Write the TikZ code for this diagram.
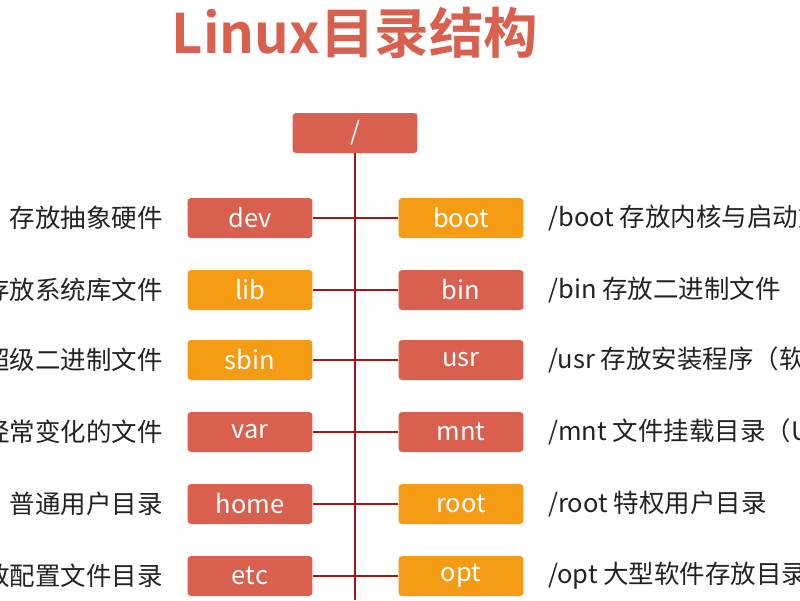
\documentclass[tikz,border=0pt]{standalone}
\usepackage{fontspec}
\setmainfont{Noto Sans CJK SC}
\newfontfamily\titlefont{Noto Sans CJK SC Bold}
\definecolor{boxred}{HTML}{D9604E}
\definecolor{boxorange}{HTML}{F59B14}
\definecolor{linered}{HTML}{A01818}
\definecolor{textgray}{HTML}{222222}

\begin{document}
\begin{tikzpicture}[x=0.02cm,y=-0.02cm]

\tikzset{dir/.style = {rounded corners=2pt, minimum width=2.5cm, minimum height=0.8cm, text=white, font=\fontsize{14.5}{16}\selectfont}}
\tikzset{red/.style = {dir, fill=boxred}}
\tikzset{orange/.style = {dir, fill=boxorange}}
\tikzset{note/.style = {text=textgray, font=\fontsize{14.5}{16}\selectfont, inner sep=0pt}}
\tikzset{link/.style = {draw=linered, line width=1.2pt}}

\useasboundingbox (0,0) rectangle (800,600);
\clip (0,0) rectangle (800,600);

%title
\node[text=boxred, font=\titlefont\fontsize{31}{36}\selectfont] (title) at (355,33) {Linux目录结构};

%root
\node[red, minimum width=2.5cm] (root) at (355,133) {/};
\coordinate (bottom) at (355,600);
\draw[link] (root) -- (bottom);

%directories
\node[red]    (dev)  at (250,218) {dev};
\node[orange] (lib)  at (250,290) {lib};
\node[orange] (sbin) at (250,360) {sbin};
\node[red]    (var)  at (250,432) {var};
\node[red]    (home) at (250,504) {home};
\node[red]    (etc)  at (250,576) {etc};
\node[orange] (boot) at (461,218) {boot};
\node[red]    (bin)  at (461,290) {bin};
\node[red]    (usr)  at (461,360) {usr};
\node[red]    (mnt)  at (461,432) {mnt};
\node[orange] (rootdir) at (461,504) {root};
\node[orange] (opt)  at (461,576) {opt};

%edges
\draw[link] (dev) -- (boot);
\draw[link] (lib) -- (bin);
\draw[link] (sbin) -- (usr);
\draw[link] (var) -- (mnt);
\draw[link] (home) -- (rootdir);
\draw[link] (etc) -- (opt);

%notes
\node[note, anchor=east] (ndev)  at (163,218) {存放抽象硬件};
\node[note, anchor=east] (nlib)  at (163,290) {存放系统库文件};
\node[note, anchor=east] (nsbin) at (163,360) {超级二进制文件};
\node[note, anchor=east] (nvar)  at (163,432) {经常变化的文件};
\node[note, anchor=east] (nhome) at (163,504) {普通用户目录};
\node[note, anchor=east] (netc)  at (163,576) {存放配置文件目录};
\node[note, anchor=west] (nboot) at (548,218) {/boot 存放内核与启动文件};
\node[note, anchor=west] (nbin)  at (548,290) {/bin 存放二进制文件};
\node[note, anchor=west] (nusr)  at (548,360) {/usr 存放安装程序（软件）};
\node[note, anchor=west] (nmnt)  at (548,432) {/mnt 文件挂载目录（U盘）};
\node[note, anchor=west] (nroot) at (548,504) {/root 特权用户目录};
\node[note, anchor=west] (nopt)  at (548,576) {/opt 大型软件存放目录};

\end{tikzpicture}
\end{document}
